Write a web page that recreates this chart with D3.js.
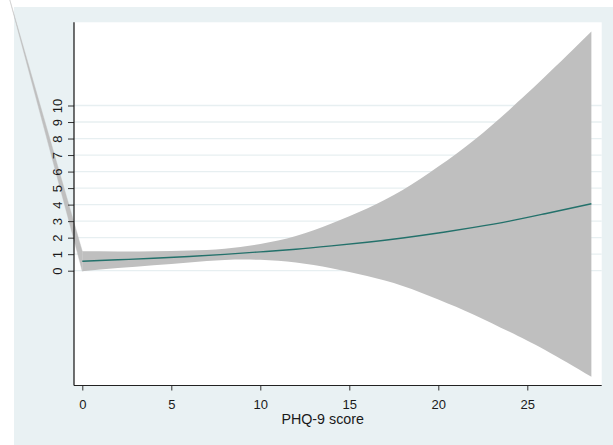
<!DOCTYPE html>
<html>
<head>
<meta charset="utf-8">
<script src="https://cdn.jsdelivr.net/npm/d3@7"></script>
<style>
  body { margin: 0; background: #fff; }
  svg { display: block; font-family: "Liberation Sans", Arial, sans-serif; }
</style>
</head>
<body>
<div id="chart"></div>
<script>
// PHQ-9 score (x), predicted value with confidence band
xVals   = [-4.1, 0, 2, 4, 6, 8, 10, 12, 14, 16, 18, 20, 22, 24, 26, 28.6]
estVals = [null, 0.57, 0.66, 0.75, 0.86, 0.99, 1.14, 1.30, 1.50, 1.72, 1.98, 2.28, 2.62, 3.0, 3.45, 4.05]
hiVals  = [16.5, 1.17, 1.16, 1.17, 1.22, 1.33, 1.62, 2.10, 2.85, 3.76, 4.88, 6.3, 7.9, 9.75, 11.75, 14.48]
loVals  = [16.5, -0.03, 0.16, 0.33, 0.50, 0.65, 0.66, 0.50, 0.15, -0.32, -0.92, -1.74, -2.66, -3.7, -4.8, -6.42]
xTicks  = [0, 5, 10, 15, 20, 25]
yTicks  = [0, 1, 2, 3, 4, 5, 6, 7, 8, 9, 10]
xTitle  = "PHQ-9 score"

W = 613, H = 445
plot = {left: 74, right: 601.7, top: 22.3, bottom: 385.5}

svg = d3.select("#chart")
  .append("svg")
  .attr("width", W)
  .attr("height", H)

// graph region
svg.append("rect")
  .attr("x", 14).attr("y", 7)
  .attr("width", W - 14).attr("height", H - 7)
  .style("fill", "#e9f1f3")

// plot region
svg.append("rect")
  .attr("x", plot.left).attr("y", plot.top)
  .attr("width", plot.right - plot.left).attr("height", plot.bottom - plot.top)
  .style("fill", "#fff")

x = d3.scaleLinear().domain([0, 25]).range([82.3, 527.3])
y = d3.scaleLinear().domain([0, 10]).range([270.7, 105.5])

// gridlines
svg.append("g")
  .selectAll("line")
  .data(yTicks)
  .join("line")
    .attr("x1", plot.left).attr("x2", plot.right)
    .attr("y1", d => y(d)).attr("y2", d => y(d))
    .style("stroke", "#e7eff1")
    .style("stroke-width", 1.3)

rows = xVals.map((v, i) => ({x: v, est: estVals[i], hi: hiVals[i], lo: loVals[i]}))

// confidence band: straight leg to the first point, smooth after 0
band = d3.area()
  .x(d => x(d.x))
  .y0(d => y(d.lo))
  .y1(d => y(d.hi))
svg.append("path")
  .datum(rows.slice(0, 2))
  .attr("d", band)
  .style("fill", "#bfbfbf")
  .style("stroke", "#bfbfbf")
  .style("stroke-width", 0.4)
svg.append("path")
  .datum(rows.slice(1))
  .attr("d", band.curve(d3.curveNatural))
  .style("fill", "#bfbfbf")

// fitted line
line = d3.line()
  .curve(d3.curveNatural)
  .x(d => x(d.x))
  .y(d => y(d.est))
svg.append("path")
  .datum(rows.slice(1))
  .attr("d", line)
  .style("fill", "none")
  .style("stroke", "#23716b")
  .style("stroke-width", 1.4)

// x axis
gx = svg.append("g")
  .attr("transform", `translate(0, ${plot.bottom})`)
  .call(d3.axisBottom(x).tickValues(xTicks).tickSize(5).tickPadding(9.5))
gx.select(".domain").remove()
gx.append("line")
  .attr("x1", plot.left).attr("x2", plot.right)
  .style("stroke", "#222").style("stroke-width", 1.2)
gx.selectAll(".tick line").style("stroke", "#333")
gx.selectAll("text")
  .style("font-size", "13px")
  .style("fill", "#1a1a1a")
  .style("font-family", "Liberation Sans, Arial, sans-serif")

// y axis
gy = svg.append("g")
  .attr("transform", `translate(${plot.left}, 0)`)
  .call(d3.axisLeft(y).tickValues(yTicks).tickSize(6).tickFormat(d3.format("d")))
gy.select(".domain").remove()
gy.append("line")
  .attr("y1", plot.top).attr("y2", plot.bottom)
  .style("stroke", "#111").style("stroke-width", 1.2)
gy.selectAll(".tick line").style("stroke", "#333")
gy.selectAll("text")
  .attr("x", 0).attr("dy", 0)
  .attr("text-anchor", "middle")
  .attr("transform", "translate(-12.5, 0) rotate(-90)")
  .style("font-size", "13px")
  .style("fill", "#1a1a1a")
  .style("font-family", "Liberation Sans, Arial, sans-serif")

// x title
svg.append("text")
  .attr("x", 322.7)
  .attr("y", 423.5)
  .attr("text-anchor", "middle")
  .style("font-size", "14.3px")
  .style("fill", "#1a1a1a")
  .text(xTitle)
</script>
</body>
</html>
